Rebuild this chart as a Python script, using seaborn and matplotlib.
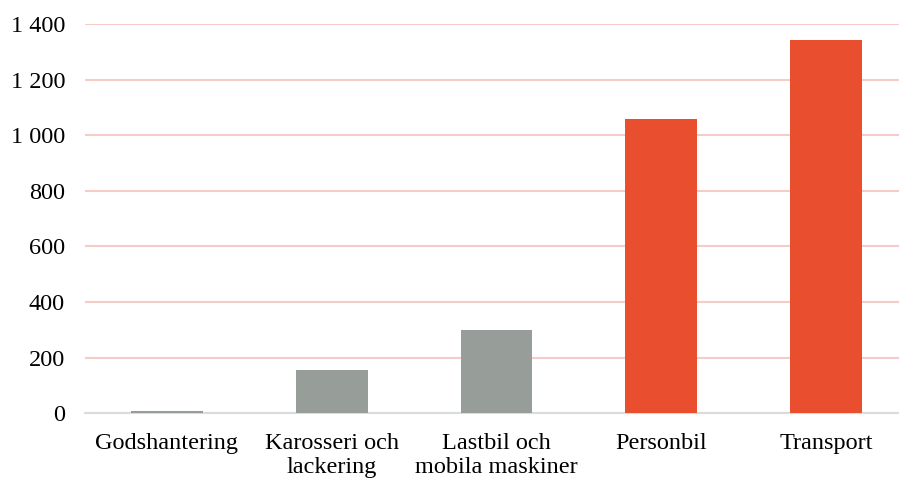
import matplotlib
matplotlib.use("Agg")
import matplotlib.pyplot as plt
import seaborn as sns
from matplotlib.ticker import FuncFormatter

categories = ["Godshantering", "Karosseri och\nlackering", "Lastbil och\nmobila maskiner", "Personbil", "Transport"]
values = [8, 154, 300, 1058, 1342]
bar_colors = ["#979E99", "#979E99", "#979E99", "#E94E2F", "#E94E2F"]
yticks = [0, 200, 400, 600, 800, 1000, 1200, 1400]

sns.set_theme(style="white")
plt.rcParams['font.family'] = ['Liberation Serif', 'DejaVu Serif']

fig = plt.figure(figsize=(8.99, 4.79), dpi=100)
W, H = 899, 479
left, right = 84.5, 908.5
bottom, top = 413.3, 24
ax = fig.add_axes([left / W, (H - bottom) / H, (right - left) / W, (bottom - top) / H])

sns.barplot(x=categories, y=values, hue=categories, palette=bar_colors,
            legend=False, width=0.436, saturation=1, ax=ax, zorder=3,
            linewidth=0)

ax.set_xlim(-0.5, 4.5)
ax.set_ylim(0, 1400)
ax.set_yticks(yticks)
ax.yaxis.set_major_formatter(FuncFormatter(lambda v, p: f"{v:,.0f}".replace(",", " ")))
ax.grid(axis="y", color="#F5CDC6", linewidth=1.5, zorder=0)
ax.set_axisbelow(True)
for s in ["top", "right", "left"]:
    ax.spines[s].set_visible(False)
ax.spines["bottom"].set_color("#D9DCDF")
ax.spines["bottom"].set_linewidth(1.5)
ax.spines["bottom"].set_zorder(2)
ax.tick_params(axis="both", length=0, labelsize=17.5, colors="black")
ax.tick_params(axis="y", pad=14)
ax.tick_params(axis="x", pad=14)
ax.set_xlabel("")
ax.set_ylabel("")
for lbl in ax.get_xticklabels():
    lbl.set_linespacing(1.2)

fig.savefig("out.png", dpi=100)
